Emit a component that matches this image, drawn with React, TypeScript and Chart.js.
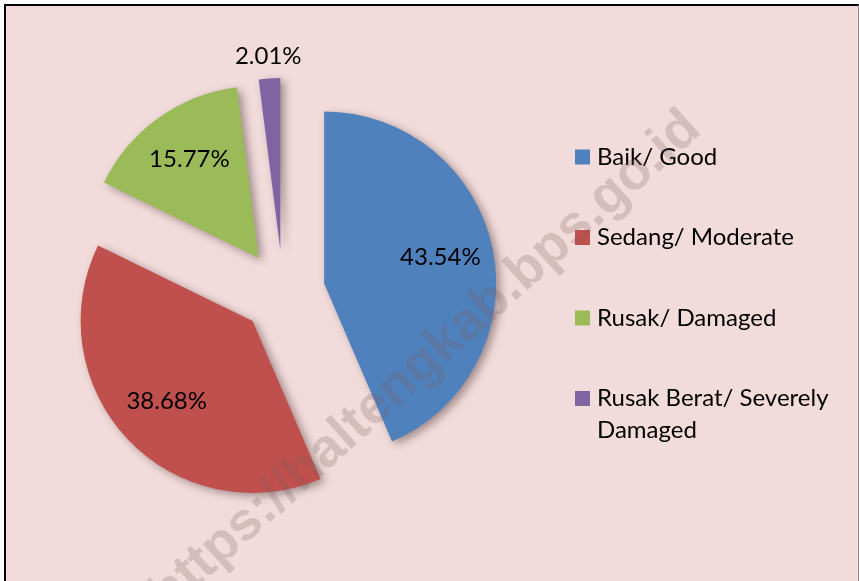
import React, { useEffect, useRef } from "react";
import { Chart, registerables } from "chart.js";

Chart.register(...registerables);

const categories = ["Baik/ Good", "Sedang/ Moderate", "Rusak/ Damaged", "Rusak Berat/ Severely Damaged"];
const shares = [43.54, 38.68, 15.77, 2.01];
const sliceColors = ["#4F81BD", "#C0504D", "#9BBB59", "#8064A2"];
const watermarkText = "https://haltengkab.bps.go.id";

const EXPLODE = 42;
const FONT_FAMILY = "Lato, 'Open Sans', sans-serif";

function wrapText(ctx: CanvasRenderingContext2D, text: string, maxW: number): string[] {
  const words = text.split(" ");
  const lines: string[] = [];
  let cur = "";
  for (const w of words) {
    const test = cur ? cur + " " + w : w;
    if (cur && ctx.measureText(test).width > maxW) {
      lines.push(cur);
      cur = w;
    } else {
      cur = test;
    }
  }
  if (cur) lines.push(cur);
  return lines;
}

export default function App() {
  const ref = useRef<HTMLCanvasElement>(null);

  useEffect(() => {
    const canvas = ref.current;
    if (!canvas) return;

    const explodePlugin = {
      id: "explodeSlices",
      beforeDatasetDraw(chart: any, args: any) {
        const ctx = chart.ctx as CanvasRenderingContext2D;
        args.meta.data.forEach((arc: any) => {
          const mid = (arc.startAngle + arc.endAngle) / 2;
          ctx.save();
          ctx.translate(Math.cos(mid) * EXPLODE, Math.sin(mid) * EXPLODE);
          ctx.shadowColor = "rgba(60,40,40,0.45)";
          ctx.shadowBlur = 8;
          ctx.shadowOffsetX = 4;
          ctx.shadowOffsetY = 3;
          arc.draw(ctx);
          ctx.restore();
        });
        return false;
      },
    };

    const labelPlugin = {
      id: "pctLabels",
      afterDatasetsDraw(chart: any) {
        const ctx = chart.ctx as CanvasRenderingContext2D;
        const meta = chart.getDatasetMeta(0);
        const values = chart.data.datasets[0].data as number[];
        ctx.save();
        ctx.font = `24px ${FONT_FAMILY}`;
        ctx.fillStyle = "#000";
        ctx.textAlign = "center";
        ctx.textBaseline = "middle";
        meta.data.forEach((arc: any, i: number) => {
          const mid = (arc.startAngle + arc.endAngle) / 2;
          const cx = arc.x + Math.cos(mid) * EXPLODE;
          const cy = arc.y + Math.sin(mid) * EXPLODE;
          const outside = values[i] < 5;
          const dist = outside ? arc.outerRadius + 20 : arc.outerRadius * 0.69;
          ctx.fillText(values[i].toFixed(2) + "%", cx + Math.cos(mid) * dist, cy + Math.sin(mid) * dist - 2);
        });
        ctx.restore();
      },
    };

    const legendPlugin = {
      id: "sideLegend",
      afterDraw(chart: any) {
        const ctx = chart.ctx as CanvasRenderingContext2D;
        const labels = chart.data.labels as string[];
        const colors = chart.data.datasets[0].backgroundColor as string[];
        ctx.save();
        ctx.font = `24px ${FONT_FAMILY}`;
        ctx.textAlign = "left";
        ctx.textBaseline = "middle";
        const boxX = 575;
        const textX = 597;
        const startY = 157;
        const step = 80.5;
        labels.forEach((lab, i) => {
          const y = startY + i * step;
          ctx.fillStyle = colors[i];
          ctx.fillRect(boxX, y - 7.5, 15, 15);
          ctx.fillStyle = "#000";
          const lines = wrapText(ctx, lab, 252);
          lines.forEach((ln, k) => ctx.fillText(ln, textX, y + k * 32));
        });
        ctx.restore();
      },
    };

    const watermarkPlugin = {
      id: "watermark",
      afterDraw(chart: any) {
        const ctx = chart.ctx as CanvasRenderingContext2D;
        ctx.save();
        ctx.translate(703, 132);
        ctx.rotate((-42 * Math.PI) / 180);
        ctx.font = "bold 54px 'Liberation Sans', Arial, sans-serif";
        ctx.fillStyle = "rgba(120,90,90,0.24)";
        ctx.textAlign = "right";
        ctx.textBaseline = "alphabetic";
        ctx.fillText(watermarkText, 0, 0);
        ctx.restore();
      },
    };

    const chart = new Chart(canvas, {
      type: "pie",
      data: {
        labels: categories,
        datasets: [{ data: shares, backgroundColor: sliceColors, borderWidth: 0 }],
      },
      options: {
        responsive: false,
        animation: false,
        devicePixelRatio: 1,
        layout: { padding: { left: 111, right: 404, top: 120, bottom: 117 } },
        plugins: { legend: { display: false }, tooltip: { enabled: false } },
      },
      plugins: [explodePlugin, labelPlugin, legendPlugin, watermarkPlugin],
    } as any);

    return () => chart.destroy();
  }, []);

  return (
    <div style={{ position: "fixed", left: 0, top: 0, width: 859, height: 581, background: "#fff", overflow: "hidden" }}>
      <div
        style={{
          position: "absolute",
          left: 4,
          top: 4,
          width: 852,
          height: 600,
          background: "#F2DCDB",
          borderLeft: "2px solid #000",
          borderTop: "2px solid #000",
          borderRight: "1px solid #8a8a8a",
        }}
      />
      <canvas ref={ref} width={859} height={581} style={{ position: "absolute", left: 0, top: 0 }} />
    </div>
  );
}
